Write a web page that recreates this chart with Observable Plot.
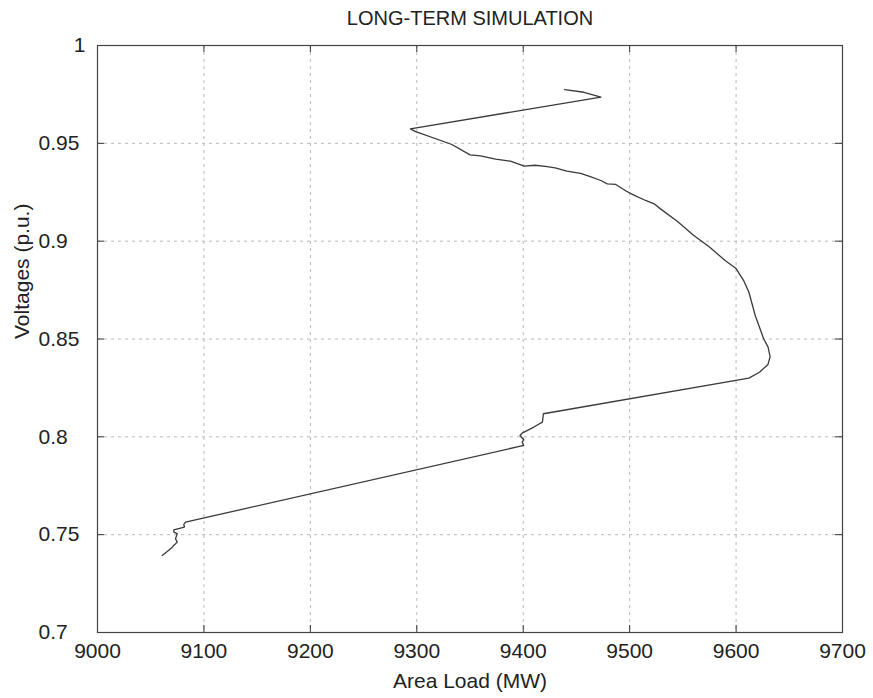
<!DOCTYPE html>
<html>
<head>
<meta charset="utf-8">
<script src="https://cdn.jsdelivr.net/npm/d3@7"></script>
<script src="https://cdn.jsdelivr.net/npm/@observablehq/plot@0.6"></script>
<style>
  html, body { margin: 0; padding: 0; background: #fff; }
  #chart { width: 873px; height: 698px; }
</style>
</head>
<body>
<div id="chart"></div>
<script>
const titleText = "LONG-TERM SIMULATION";
const xLabel = "Area Load (MW)";
const yLabel = "Voltages (p.u.)";
const xTicks = [9000, 9100, 9200, 9300, 9400, 9500, 9600, 9700];
const yTicks = [0.7, 0.75, 0.8, 0.85, 0.9, 0.95, 1];

const load = [9439, 9457, 9473, 9294, 9299, 9333, 9350, 9360, 9374, 9388, 9401, 9411, 9421, 9430, 9441, 9454, 9463, 9473, 9479, 9487, 9497, 9504, 9515, 9523, 9529,
  9545, 9560, 9575, 9590, 9600, 9607, 9612, 9615, 9618, 9622, 9626, 9630, 9632, 9630, 9622, 9612,
  9419, 9418, 9410, 9399, 9397, 9400.5, 9399, 9400.5,
  9082.7, 9081.1, 9081.7, 9071.7, 9071.7, 9074.9, 9073.3, 9074.9, 9071.7, 9070.2, 9067, 9060.8];
const voltage = [0.9775, 0.9761, 0.9736, 0.9574, 0.956, 0.9494, 0.9441, 0.9436, 0.9419, 0.9409, 0.9383, 0.9388, 0.9382, 0.9375, 0.9358, 0.9347, 0.933, 0.931, 0.9293, 0.929, 0.9255, 0.9235, 0.9208, 0.9191, 0.9165,
  0.910, 0.903, 0.897, 0.890, 0.886, 0.880, 0.874, 0.868, 0.862, 0.856, 0.850, 0.846, 0.841, 0.837, 0.833, 0.830,
  0.8118, 0.8075, 0.805, 0.8019, 0.8007, 0.7985, 0.7973, 0.7956,
  0.7564, 0.7552, 0.7539, 0.7525, 0.7513, 0.7505, 0.7479, 0.7462, 0.7445, 0.7436, 0.742, 0.7394];

const data = load.map((x, i) => ({x, y: voltage[i]}));
const fmt = d => String(+d.toFixed(2));
const font = "Arial, 'Liberation Sans', Helvetica, sans-serif";
const tickLenX = 0.3 * 7 / 587;  // tick length expressed in y units
const tickLenY = 700 * 7 / 745;  // tick length expressed in x units

const plot = Plot.plot({
  width: 873,
  height: 698,
  marginLeft: 97,
  marginRight: 31,
  marginTop: 45,
  marginBottom: 66,
  style: {fontFamily: font, background: "#fff", color: "#222"},
  x: {domain: [9000, 9700], ticks: xTicks, label: null},
  y: {domain: [0.7, 1], ticks: yTicks, label: null},
  marks: [
    Plot.ruleX(xTicks.slice(1, -1), {stroke: "#b8b8b8", strokeWidth: 1, strokeDasharray: "3,4"}),
    Plot.ruleY(yTicks.slice(1, -1), {stroke: "#b8b8b8", strokeWidth: 1, strokeDasharray: "3,4"}),
    Plot.ruleX(xTicks, {x: d => d, y1: 0.7, y2: 0.7 + tickLenX, stroke: "#333"}),
    Plot.ruleX(xTicks, {x: d => d, y1: 1, y2: 1 - tickLenX, stroke: "#333"}),
    Plot.ruleY(yTicks, {y: d => d, x1: 9000, x2: 9000 + tickLenY, stroke: "#333"}),
    Plot.ruleY(yTicks, {y: d => d, x1: 9700, x2: 9700 - tickLenY, stroke: "#333"}),
    Plot.frame({stroke: "#444", strokeWidth: 1.2}),
    Plot.line(data, {x: "x", y: "y", stroke: "#3a3a3a", strokeWidth: 1.3}),
    Plot.axisX(xTicks, {tickSize: 0, tickPadding: 11, tickFormat: fmt, fontSize: 21, label: null}),
    Plot.axisY(yTicks.filter(d => d < 1), {tickSize: 0, tickPadding: 59, textAnchor: "start", tickFormat: fmt, fontSize: 21, label: null}),
    Plot.axisY([1], {tickSize: 0, tickPadding: 12, tickFormat: fmt, fontSize: 21, label: null}),
    Plot.text([xLabel], {frameAnchor: "bottom", dy: 55, fontSize: 21, fill: "#222"}),
    Plot.text([yLabel], {frameAnchor: "left", dx: -75, rotate: -90, fontSize: 21, fill: "#222"}),
    Plot.text([titleText], {frameAnchor: "top", dy: -35, fontSize: 20, fill: "#222"})
  ]
});
document.getElementById("chart").appendChild(plot);
</script>
</body>
</html>
